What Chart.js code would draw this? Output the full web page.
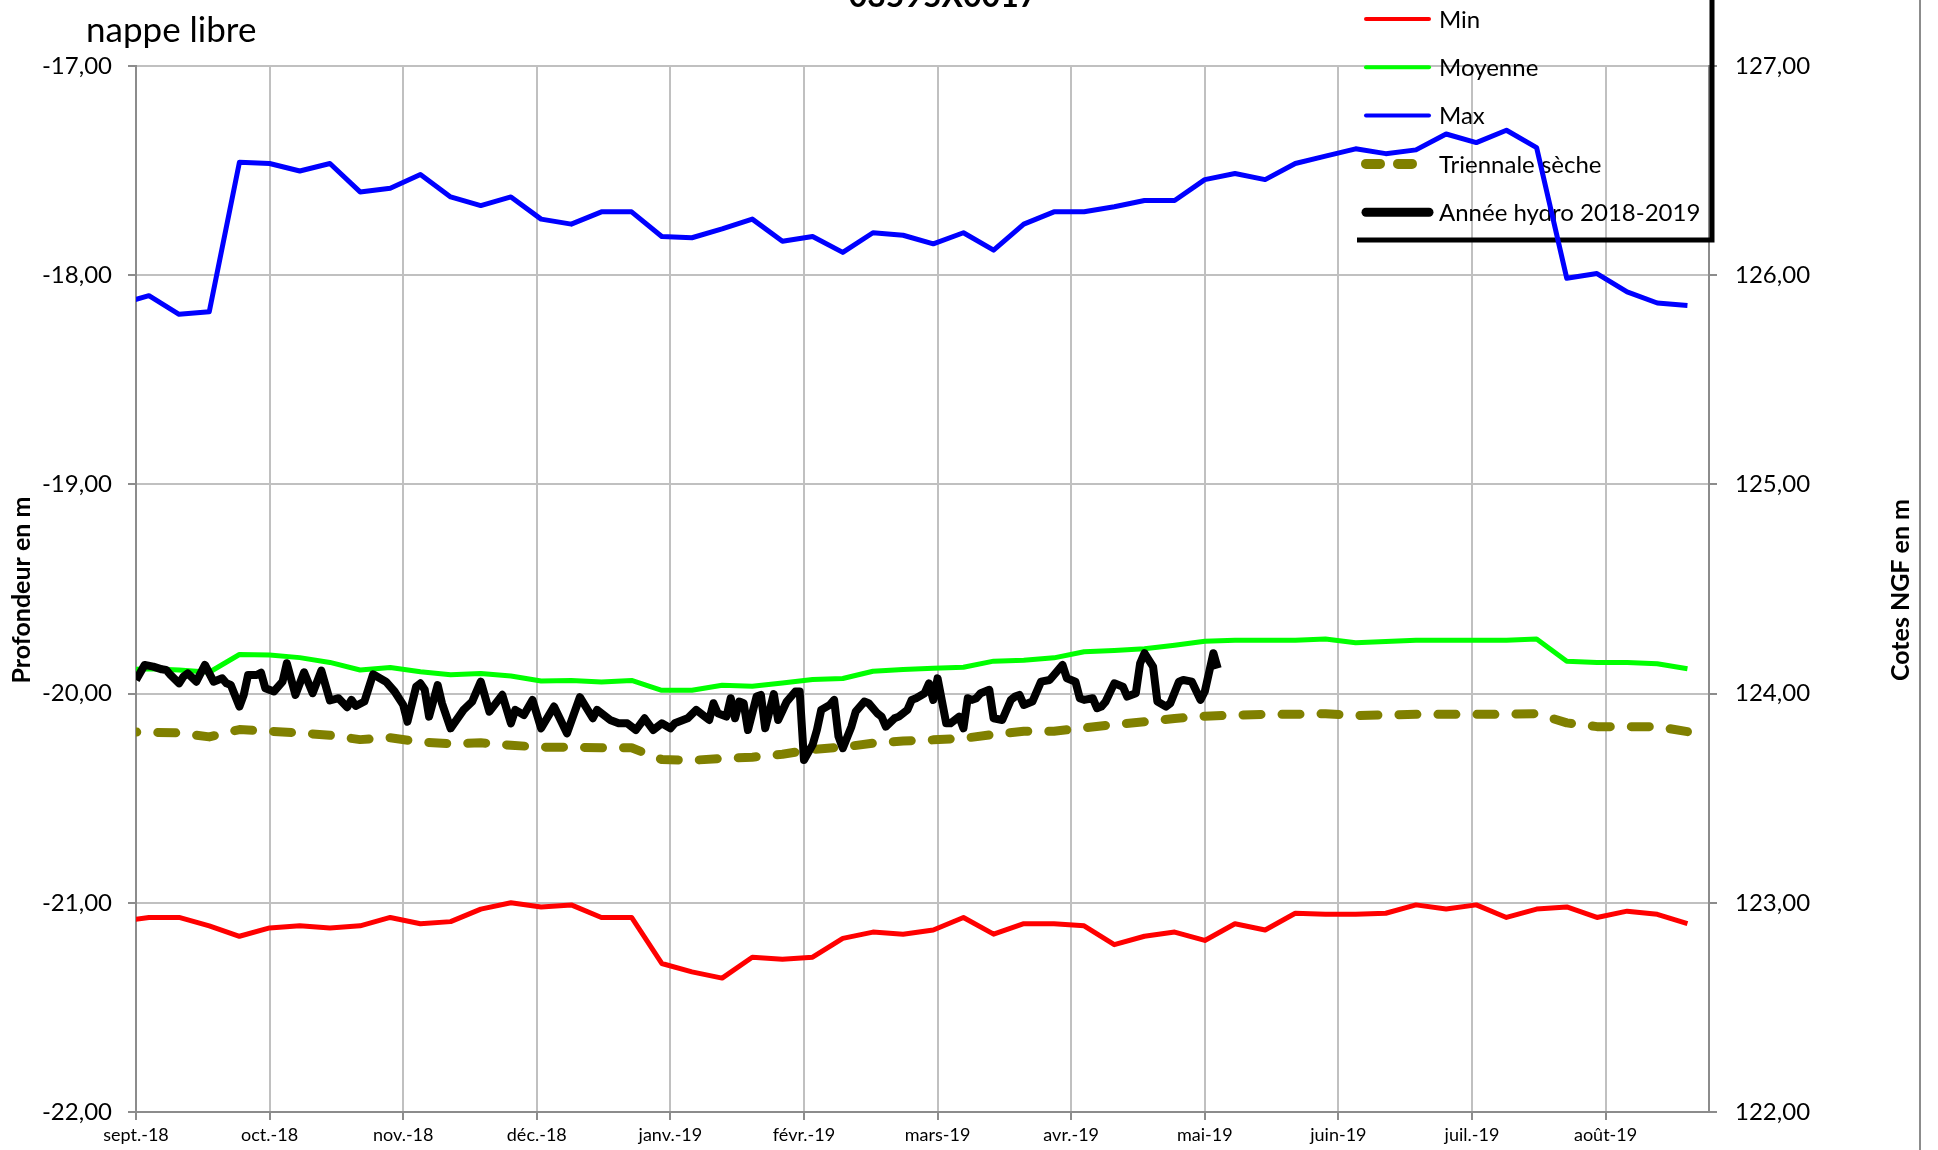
<!DOCTYPE html>
<html>
<head>
<meta charset="utf-8">
<script src="https://cdn.jsdelivr.net/npm/chart.js@4.4.0/dist/chart.umd.min.js"></script>
<style>
  html, body { margin: 0; padding: 0; background: #fff; }
  canvas { display: block; }
</style>
</head>
<body>
<canvas id="chart" width="1938" height="1150"></canvas>
<script>
// titles
const stationCode = '03595X0017';
const sheetTitle = 'nappe libre';

// x axis: days since 1 sept. 2018, one label every 31 days
const monthDays = [0, 31, 62, 93, 124, 155, 186, 217, 248, 279, 310, 341];
const monthLabels = ['sept.-18', 'oct.-18', 'nov.-18', 'déc.-18', 'janv.-19', 'févr.-19',
  'mars-19', 'avr.-19', 'mai-19', 'juin-19', 'juil.-19', 'août-19'];

// weekly reference series (day of each value)
const weekDays = [-4, 3, 10, 17, 24, 31, 38, 45, 52, 59, 66, 73, 80, 87, 94, 101, 108, 115,
  122, 129, 136, 143, 150, 157, 164, 171, 178, 185, 192, 199, 206, 213, 220, 227, 234, 241,
  248, 255, 262, 269, 276, 283, 290, 297, 304, 311, 318, 325, 332, 339, 346, 353, 360];

const minDepth = [-21.09, -21.07, -21.07, -21.11, -21.16, -21.12, -21.11, -21.12, -21.11,
  -21.07, -21.10, -21.09, -21.03, -21.00, -21.02, -21.01, -21.07, -21.07, -21.29, -21.33,
  -21.36, -21.26, -21.27, -21.26, -21.17, -21.14, -21.15, -21.13, -21.07, -21.15, -21.10,
  -21.10, -21.11, -21.20, -21.16, -21.14, -21.18, -21.10, -21.13, -21.05, -21.055, -21.055,
  -21.05, -21.01, -21.03, -21.01, -21.07, -21.03, -21.02, -21.07, -21.04, -21.055, -21.10];

const meanDepth = [-19.887, -19.881, -19.887, -19.898, -19.813, -19.816, -19.828, -19.851,
  -19.887, -19.875, -19.896, -19.910, -19.904, -19.916, -19.940, -19.937, -19.944, -19.937,
  -19.984, -19.984, -19.960, -19.965, -19.949, -19.933, -19.928, -19.893, -19.885, -19.879,
  -19.874, -19.845, -19.841, -19.829, -19.800, -19.794, -19.786, -19.769, -19.750, -19.745,
  -19.745, -19.745, -19.739, -19.757, -19.751, -19.745, -19.745, -19.745, -19.745, -19.739,
  -19.845, -19.851, -19.851, -19.857, -19.881];

const maxDepth = [-18.139, -18.098, -18.187, -18.175, -17.460, -17.466, -17.502, -17.466,
  -17.602, -17.584, -17.519, -17.626, -17.667, -17.626, -17.732, -17.756, -17.697, -17.697,
  -17.815, -17.821, -17.779, -17.732, -17.838, -17.815, -17.891, -17.797, -17.809, -17.850,
  -17.797, -17.880, -17.756, -17.697, -17.697, -17.673, -17.643, -17.643, -17.543, -17.514,
  -17.543, -17.466, -17.431, -17.396, -17.419, -17.401, -17.325, -17.366, -17.307, -17.390,
  -18.015, -17.992, -18.080, -18.133, -18.145];

const dryDepth = [-20.182, -20.185, -20.188, -20.207, -20.172, -20.180, -20.188, -20.199,
  -20.220, -20.211, -20.231, -20.240, -20.235, -20.247, -20.256, -20.256, -20.259, -20.259,
  -20.315, -20.319, -20.310, -20.304, -20.290, -20.267, -20.256, -20.237, -20.227, -20.221,
  -20.214, -20.195, -20.180, -20.180, -20.164, -20.148, -20.135, -20.119, -20.108, -20.103,
  -20.099, -20.099, -20.096, -20.105, -20.102, -20.099, -20.099, -20.099, -20.099, -20.096,
  -20.140, -20.158, -20.158, -20.158, -20.182];

// hydrological year 2018-2019 (daily readings, turning points)
const hydroDays = [0, 2, 4, 6, 7, 8, 10, 11, 12, 14, 16, 18, 20, 21, 22, 24, 25, 26, 28, 29,
  30, 32, 34, 35, 37, 39, 41, 43, 45, 47, 49, 50, 51, 53, 55, 58, 60, 62, 63, 65, 66, 67, 68,
  70, 71, 73, 76, 78, 80, 82, 85, 87, 88, 90, 92, 94, 97, 100, 103, 106, 107, 110, 112, 114,
  116, 118, 120, 122, 124, 125, 128, 130, 132, 133, 134, 135, 137, 138, 139, 140, 141, 142,
  144, 145, 146, 148, 149, 151, 153, 154, 155, 157, 158, 159, 161, 162, 163, 164, 166, 167,
  169, 170, 172, 173, 174, 176, 177, 179, 180, 181, 183, 184, 185, 186, 188, 189, 191, 192,
  193, 194, 195, 196, 198, 199, 201, 203, 204, 205, 206, 208, 210, 212, 213, 215, 216, 218,
  219, 220, 222, 223, 224, 225, 227, 228, 229, 230, 232, 233, 234, 236, 237, 239, 240, 242,
  243, 245, 247, 248, 250, 251];
const hydroDepth = [-19.935, -19.863, -19.871, -19.884, -19.887, -19.911, -19.951, -19.919,
  -19.903, -19.943, -19.863, -19.943, -19.927, -19.951, -19.959, -20.062, -20.006, -19.911,
  -19.911, -19.900, -19.974, -19.990, -19.943, -19.855, -20.006, -19.898, -19.998, -19.890,
  -20.033, -20.022, -20.065, -20.030, -20.059, -20.038, -19.908, -19.943, -19.990, -20.054,
  -20.134, -19.967, -19.951, -19.982, -20.110, -19.959, -20.046, -20.166, -20.078, -20.038,
  -19.943, -20.086, -20.006, -20.142, -20.078, -20.102, -20.030, -20.166, -20.062, -20.190,
  -20.017, -20.118, -20.078, -20.126, -20.142, -20.142, -20.174, -20.118, -20.174, -20.142,
  -20.166, -20.142, -20.118, -20.078, -20.110, -20.126, -20.046, -20.094, -20.110, -20.022,
  -20.118, -20.038, -20.046, -20.174, -20.014, -20.006, -20.166, -20.002, -20.126, -20.038,
  -19.990, -19.990, -20.317, -20.245, -20.174, -20.078, -20.054, -20.030, -20.205, -20.261,
  -20.158, -20.086, -20.038, -20.046, -20.094, -20.110, -20.158, -20.118, -20.110, -20.078,
  -20.030, -20.022, -19.998, -19.951, -20.030, -19.927, -20.142, -20.142, -20.110, -20.166,
  -20.022, -20.030, -20.022, -19.998, -19.982, -20.118, -20.126, -20.030, -20.014, -20.006,
  -20.054, -20.038, -19.943, -19.935, -19.911, -19.863, -19.927, -19.943, -20.022, -20.030,
  -20.022, -20.070, -20.062, -20.038, -19.951, -19.959, -19.967, -20.014, -19.998, -19.855,
  -19.807, -19.871, -20.038, -20.062, -20.046, -19.943, -19.935, -19.943, -20.030, -19.990,
  -19.807, -19.879];

// legend order as in the sheet
const legendOrder = ['Min', 'Moyenne', 'Max', 'Triennale sèche', 'Année hydro 2018-2019'];

Chart.defaults.font.family = 'Lato';
Chart.defaults.color = '#000';

const toPoints = (xs, ys) => xs.map((x, i) => ({ x: x, y: ys[i] }));
const frNumber = v => v.toFixed(2).replace('.', ',');

const axisGray = '#8c8c8c';
const gridGray = '#c0c0c0';

// titles, axis names, legend and frame lines
const decorPlugin = {
  id: 'decor',
  beforeDatasetsDraw(chart) {
    const c = chart.ctx;
    c.save();

    // legend
    c.font = '24px Lato';
    c.textAlign = 'left';
    c.textBaseline = 'middle';
    legendOrder.forEach((name, i) => {
      const ds = chart.data.datasets.find(d => d.label === name);
      const y = 19 + i * 48.3;
      c.beginPath();
      c.strokeStyle = ds.borderColor;
      c.lineWidth = ds.legendWidth;
      c.lineCap = 'round';
      c.setLineDash(ds.borderDash ? [14, 18] : []);
      c.moveTo(1366, y);
      c.lineTo(1429, y);
      c.stroke();
      c.setLineDash([]);
      c.fillStyle = '#000';
      c.fillText(name, 1439, y + 1);
    });

    // legend frame (right and bottom edges)
    c.strokeStyle = '#000';
    c.lineWidth = 5;
    c.lineCap = 'butt';
    c.beginPath();
    c.moveTo(1357, 240);
    c.lineTo(1712, 240);
    c.lineTo(1712, 0);
    c.stroke();
    c.restore();
  },
  afterDraw(chart) {
    const c = chart.ctx;
    c.save();
    c.fillStyle = '#000';

    // station code, mostly cut by the top edge
    c.font = 'bold 32px Lato';
    c.textAlign = 'center';
    c.textBaseline = 'alphabetic';
    c.fillText(stationCode, 943, 7);

    c.font = '35px Lato';
    c.textAlign = 'left';
    c.fillText(sheetTitle, 86, 42);

    // axis names
    c.font = 'bold 25px Lato';
    c.textAlign = 'center';
    c.textBaseline = 'middle';
    c.save();
    c.translate(22, 590);
    c.rotate(-Math.PI / 2);
    c.fillText('Profondeur en m', 0, 0);
    c.restore();
    c.save();
    c.translate(1901, 590);
    c.rotate(-Math.PI / 2);
    c.fillText('Cotes NGF en m', 0, 0);
    c.restore();

    // outer border on the right
    c.strokeStyle = axisGray;
    c.lineWidth = 2;
    c.beginPath();
    c.moveTo(1920, 0);
    c.lineTo(1920, 1150);
    c.stroke();
    c.restore();
  }
};

new Chart(document.getElementById('chart'), {
  type: 'line',
  data: {
    datasets: [{
      label: 'Année hydro 2018-2019',
      data: toPoints(hydroDays, hydroDepth),
      borderColor: '#000000',
      borderWidth: 8,
      legendWidth: 9,
      order: 0
    }, {
      label: 'Min',
      data: toPoints(weekDays, minDepth),
      borderColor: '#ff0000',
      borderWidth: 5,
      legendWidth: 4,
      order: 1
    }, {
      label: 'Moyenne',
      data: toPoints(weekDays, meanDepth),
      borderColor: '#00ff00',
      borderWidth: 5,
      legendWidth: 4,
      order: 2
    }, {
      label: 'Max',
      data: toPoints(weekDays, maxDepth),
      borderColor: '#0000ff',
      borderWidth: 5,
      legendWidth: 4,
      order: 3
    }, {
      label: 'Triennale sèche',
      data: toPoints(weekDays, dryDepth),
      borderColor: '#808000',
      borderWidth: 9,
      borderDash: [18, 21],
      borderCapStyle: 'round',
      legendWidth: 10,
      order: 4
    }]
  },
  options: {
    responsive: false,
    animation: false,
    events: [],
    layout: { padding: { top: 66, left: 0, right: 0, bottom: 0 } },
    elements: {
      point: { radius: 0 },
      line: { tension: 0, borderJoinStyle: 'round', fill: false }
    },
    plugins: {
      legend: { display: false },
      tooltip: { enabled: false },
      title: { display: false }
    },
    scales: {
      x: {
        type: 'linear',
        min: 0,
        max: 365,
        afterBuildTicks: axis => { axis.ticks = monthDays.map(v => ({ value: v })); },
        afterFit: axis => { axis.height = 38; },
        ticks: {
          autoSkip: false,
          maxRotation: 0,
          padding: 4,
          font: { size: 18 },
          callback: v => monthLabels[monthDays.indexOf(v)]
        },
        grid: { color: gridGray, lineWidth: 2, tickLength: 8, tickColor: axisGray },
        border: { color: axisGray, width: 2 }
      },
      y: {
        position: 'left',
        min: -22,
        max: -17,
        afterFit: axis => { axis.width = 136; },
        ticks: { stepSize: 1, padding: 16, font: { size: 24 }, callback: frNumber },
        grid: { color: gridGray, lineWidth: 2, tickLength: 8, tickColor: axisGray },
        border: { color: axisGray, width: 2 }
      },
      y2: {
        position: 'right',
        min: 122,
        max: 127,
        afterFit: axis => { axis.width = 229; },
        ticks: { stepSize: 1, padding: 18, font: { size: 24 }, callback: frNumber },
        grid: { drawOnChartArea: false, lineWidth: 2, tickLength: 8, tickColor: axisGray },
        border: { color: axisGray, width: 2 }
      }
    }
  },
  plugins: [decorPlugin]
});
</script>
</body>
</html>
